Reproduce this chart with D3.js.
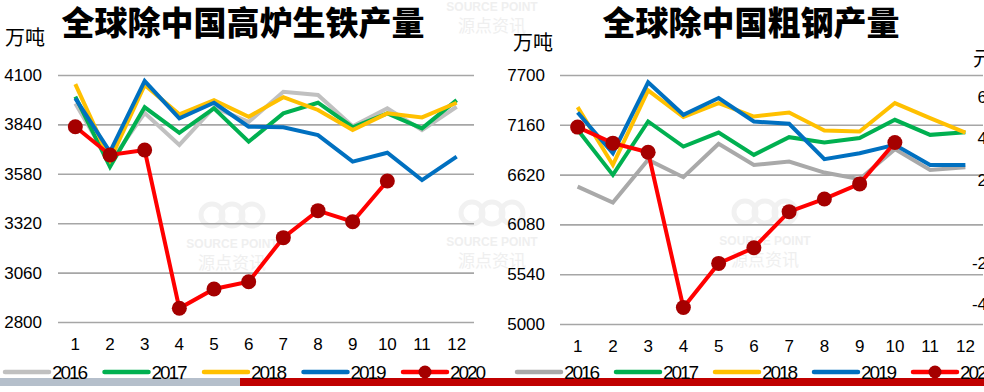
<!DOCTYPE html>
<html>
<head>
<meta charset="utf-8">
<script src="https://cdn.jsdelivr.net/npm/d3@7"></script>
<style>
  body { margin: 0; background: #fff; }
  svg text { font-family: "Liberation Sans", Arial, sans-serif; }
  .cn { font-family: "Noto Sans CJK SC", sans-serif; }
</style>
</head>
<body>
<div id="chart"></div>
<script>
// months and series
const months = ['1','2','3','4','5','6','7','8','9','10','11','12'];
const years = ['2016', '2017', '2018', '2019', '2020'];
const colors = ['#bfbfbf', '#00b050', '#ffc000', '#0070c0', '#ff0000'];

// 全球除中国高炉生铁产量 (万吨)
const iron2016 = [3950, 3640, 3900, 3732, 3930, 3853, 4012, 3995, 3830, 3925, 3810, 3933];
const iron2017 = [3986, 3617, 3930, 3796, 3925, 3749, 3898, 3954, 3825, 3898, 3819, 3968];
const iron2018 = [4052, 3653, 4047, 3893, 3968, 3880, 3983, 3916, 3810, 3898, 3877, 3954];
const iron2019 = [3977, 3696, 4068, 3872, 3954, 3828, 3825, 3784, 3644, 3691, 3547, 3670];
const iron2020 = [3828, 3679, 3705, 2872, 2974, 3012, 3244, 3386, 3328, 3542];
const ironTicks = [2800, 3060, 3320, 3580, 3840, 4100];

// 全球除中国粗钢产量 (万吨)
const steel2016 = [6490, 6316, 6780, 6592, 6954, 6725, 6761, 6642, 6570, 6896, 6671, 6700];
const steel2017 = [7106, 6617, 7196, 6924, 7076, 6834, 7026, 6968, 7016, 7214, 7051, 7080];
const steel2018 = [7352, 6725, 7533, 7244, 7396, 7250, 7294, 7098, 7087, 7396, 7233, 7076];
const steel2019 = [7294, 6852, 7620, 7269, 7450, 7196, 7171, 6787, 6852, 6943, 6725, 6725];
const steel2020 = [7135, 6961, 6863, 5179, 5657, 5827, 6218, 6356, 6519, 6968];
const steelTicks = [5000, 5540, 6080, 6620, 7160, 7700];

// third chart, cut off at the right edge
const edgeTicks = [6, 4, 2, -2, -4];

const svg = d3.select('#chart')
    .append('svg')
    .attr('width', 984)
    .attr('height', 392);

// bottom band
svg.append('rect').attr('x', 0).attr('y', 378).attr('width', 240).attr('height', 8).attr('fill', '#b5bfcb');
svg.append('rect').attr('x', 240).attr('y', 378).attr('width', 744).attr('height', 8).attr('fill', '#c00000');

// faint watermarks
function watermark(cx, cy) {
    const g = svg.append('g').attr('transform', `translate(${cx},${cy})`);
    [-20, 0, 20].forEach(dx => {
        g.append('circle').attr('cx', dx).attr('cy', 0).attr('r', 11)
            .attr('fill', 'none').attr('stroke', '#f1f1f1').attr('stroke-width', 5);
    });
    g.append('text').attr('y', 33).attr('text-anchor', 'middle')
        .style('font-size', '12px').style('font-weight', 'bold').attr('fill', '#efefef')
        .text('SOURCE POINT');
    g.append('text').attr('class', 'cn').attr('y', 54).attr('text-anchor', 'middle')
        .style('font-size', '17px').attr('fill', '#efefef')
        .text('源点资讯');
}
watermark(232, 215);
watermark(492, -22);
watermark(765, 212);
watermark(492, 213);

function drawChart(cfg) {
    const x = d3.scaleBand().domain(months).range([cfg.left, cfg.right]);
    const y = d3.scaleLinear().domain([cfg.ticks[0], cfg.ticks[cfg.ticks.length - 1]]).range([cfg.bottom, cfg.top]);

    const yAxis = svg.append('g')
        .attr('transform', `translate(${cfg.left},0)`)
        .call(d3.axisLeft(y).tickValues(cfg.ticks).tickFormat(d3.format('d'))
            .tickSize(-(cfg.right - cfg.left)).tickPadding(cfg.pad));
    yAxis.select('.domain').remove();
    yAxis.selectAll('line').attr('stroke', '#a6a6a6').attr('stroke-width', 1.6);
    yAxis.selectAll('text').style('font-size', '17px').attr('fill', '#000');

    const xAxis = svg.append('g')
        .attr('transform', `translate(0,${cfg.bottom + 12})`)
        .call(d3.axisBottom(x).tickSize(0).tickPadding(4));
    xAxis.select('.domain').remove();
    xAxis.selectAll('text').style('font-size', '17px').attr('fill', '#000');

    const line = d3.line()
        .x((d, i) => x(months[i]) + x.bandwidth() / 2)
        .y(d => y(d));

    cfg.series.forEach((vals, k) => {
        svg.append('path')
            .datum(vals)
            .attr('d', line)
            .attr('fill', 'none')
            .attr('stroke', k === 0 ? cfg.grey : colors[k])
            .attr('stroke-width', 4);
    });

    const last = cfg.series[4];
    svg.selectAll(null)
        .data(last)
        .enter()
        .append('circle')
        .attr('cx', (d, i) => x(months[i]) + x.bandwidth() / 2)
        .attr('cy', d => y(d))
        .attr('r', 7.5)
        .attr('fill', '#a50000');

    svg.append('text')
        .attr('class', 'cn')
        .attr('x', cfg.titleX)
        .attr('y', 35)
        .attr('text-anchor', 'middle')
        .style('font-size', '33px')
        .style('font-weight', '900')
        .text(cfg.title);

    svg.append('text')
        .attr('class', 'cn')
        .attr('x', cfg.unitX)
        .attr('y', cfg.unitY)
        .style('font-size', '20px')
        .text('万吨');

    // legend
    const lg = svg.append('g').attr('transform', `translate(${cfg.legendX},372)`);
    years.forEach((yr, k) => {
        const g = lg.append('g').attr('transform', `translate(${k * cfg.legendStep},0)`);
        g.append('line').attr('x1', 0).attr('x2', 44).attr('y1', 0).attr('y2', 0)
            .attr('stroke', k === 0 ? cfg.grey : colors[k]).attr('stroke-width', 4.5)
            .attr('stroke-linecap', 'round');
        if (k === 4) {
            g.append('circle').attr('cx', 22).attr('cy', 0).attr('r', 6.5).attr('fill', '#a50000');
        }
        g.append('text').attr('x', 47).attr('y', 7).style('font-size', '19px')
            .attr('textLength', 36).text(yr);
    });
}

drawChart({
    left: 58, right: 474, top: 75, bottom: 322, pad: 16,
    ticks: ironTicks,
    series: [iron2016, iron2017, iron2018, iron2019, iron2020],
    grey: '#c0c0c0',
    title: '全球除中国高炉生铁产量', titleX: 243,
    unitX: 5, unitY: 45,
    legendX: 5, legendStep: 99.5
});

drawChart({
    left: 560, right: 983, top: 75, bottom: 324, pad: 15,
    ticks: steelTicks,
    series: [steel2016, steel2017, steel2018, steel2019, steel2020],
    grey: '#a9a9a9',
    title: '全球除中国粗钢产量', titleX: 751,
    unitX: 513, unitY: 50,
    legendX: 517, legendStep: 99
});

// axis labels of the next chart, cut off at the right edge
const ey = d3.scaleLinear().domain([6, -4]).range([97, 304]);
svg.append('g').selectAll('text')
    .data(edgeTicks)
    .enter()
    .append('text')
    .attr('x', 987)
    .attr('y', d => ey(d) + 6)
    .attr('text-anchor', 'end')
    .style('font-size', '17px')
    .text(d => d);
svg.append('text').attr('class', 'cn').attr('x', 973).attr('y', 66)
    .style('font-size', '20px').text('元');
</script>
</body>
</html>
